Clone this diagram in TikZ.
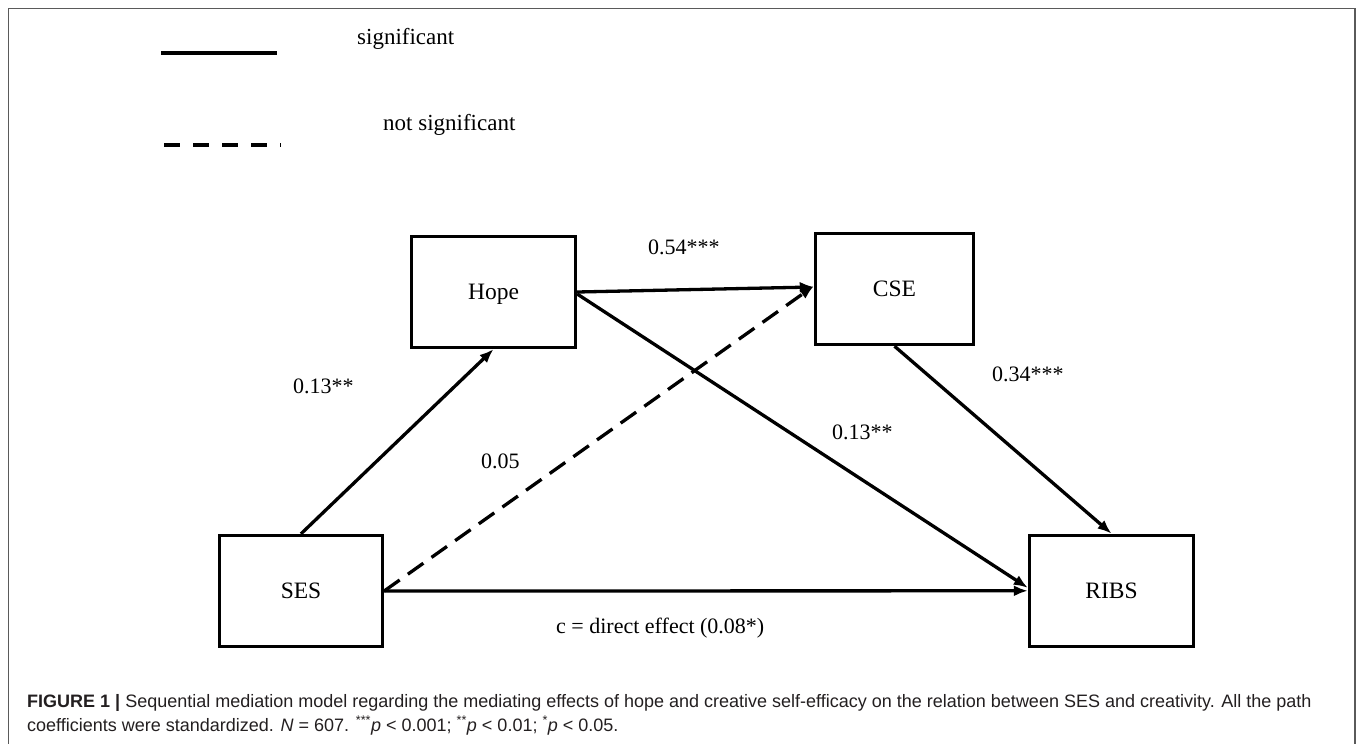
\documentclass[tikz,border=0pt]{standalone}
\usepackage{fontspec}
\setmainfont{Liberation Serif}
\newfontfamily\capfont{Liberation Sans}
\usetikzlibrary{arrows.meta,calc}
\definecolor{framegray}{RGB}{90,90,90}
\definecolor{captext}{RGB}{35,31,32}
\begin{document}
\begin{tikzpicture}[x=1pt,y=-1pt,
  varbox/.style={draw, line width=3.4pt, minimum height=111pt, inner sep=0pt,
    text depth=0pt, font=\fontsize{23.5}{28}\selectfont},
  effect/.style={line width=3.3pt, -{Latex[length=14pt,width=11pt]}},
  nseffect/.style={effect, dash pattern=on 19pt off 10pt},
  lbl/.style={anchor=base west, inner sep=0pt, font=\fontsize{22}{26}\selectfont},
  leg/.style={anchor=base west, inner sep=0pt, font=\fontsize{23}{27}\selectfont},
  captxt/.style={anchor=base west, inner sep=0pt, text=captext,
    font=\capfont\fontsize{18}{24}\selectfont}]
\useasboundingbox (0,0) rectangle (1357,744);
% frame
\draw[framegray, line width=1.6pt] (8.3,744) -- (8.3,8.3) -- (1355,8.3) -- (1355,744);
% legend
\coordinate (s1) at (161,53);
\coordinate (s2) at (277,53);
\coordinate (d1) at (164,145);
\coordinate (d2) at (281,145);
\draw[line width=4.5pt] (s1) -- (s2);
\draw[line width=4pt, dash pattern=on 16pt off 13pt] (d1) -- (d2);
\node[leg] (sig) at (357,44) {significant};
\node[leg] (nsig) at (383,130) {not significant};
% boxes
\node[varbox, minimum width=164pt] (hope) at (493.5,292) {Hope};
\node[varbox, minimum width=158pt] (cse) at (894.5,289) {CSE};
\node[varbox, minimum width=163pt] (ses) at (301,591) {SES};
\node[varbox, minimum width=164pt] (ribs) at (1111.5,590.8) {RIBS};
% paths
\draw[effect] (ses.north) -- (hope.south);
\draw[effect] (ses.east) -- (ribs.west);
\draw[nseffect] (ses.east) -- ($(cse.west)+(0,-3)$);
\draw[effect] (hope.east) -- ($(cse.west)+(0,-2)$);
\draw[effect] ($(hope.east)+(0,2)$) -- ($(ribs.west)+(0,-3)$);
\draw[effect] (cse.south) -- (ribs.north);
% labels
\node[lbl] (l054) at (648,254) {0.54***};
\node[lbl] (l013a) at (293,393) {0.13**};
\node[lbl] (l005) at (481,468) {0.05};
\node[lbl] (l013b) at (832,439) {0.13**};
\node[lbl] (l034) at (992,381) {0.34***};
\node[lbl] (lc) at (556,633) {c = direct effect (0.08*)};
% caption
\node[captxt] (cap1) at (27,707) {\textbf{FIGURE 1 |} Sequential mediation model regarding the mediating effects of hope and creative self-efficacy on the relation between SES and creativity. All the path};
\node[captxt] (cap2) at (27,731) {coefficients were standardized. \textit{N} = 607. \textsuperscript{***}\textit{p} < 0.001; \textsuperscript{**}\textit{p} < 0.01; \textsuperscript{*}\textit{p} < 0.05.};
\end{tikzpicture}
\end{document}
